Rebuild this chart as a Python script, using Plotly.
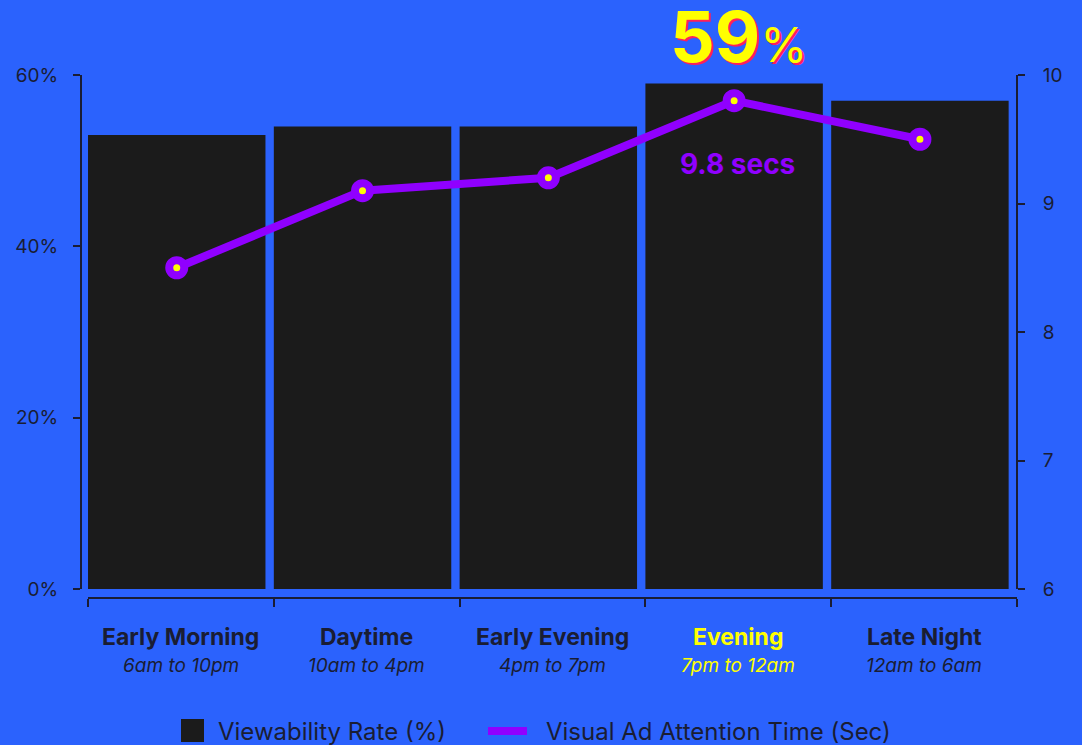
import plotly.graph_objects as go

# Dayparts, their time windows and the two measured series
dayparts = ["Early Morning", "Daytime", "Early Evening", "Evening", "Late Night"]
time_windows = ["6am to 10pm", "10am to 4pm", "4pm to 7pm", "7pm to 12am", "12am to 6am"]
viewability_pct = [53, 54, 54, 59, 57]
attention_secs = [8.5, 9.1, 9.2, 9.8, 9.5]
pct_ticks = [0, 20, 40, 60]
sec_ticks = [6, 7, 8, 9, 10]
highlight = "Evening"

BG = "#2b62fd"
BAR = "#1b1b1b"
PURPLE = "#9000ff"
YELLOW = "#ffff00"
INK = "#1a1d33"
FONT = "Inter"

# Bars start at each category boundary and leave a small gap before the next
BAR_WIDTH = 0.955
idx = list(range(len(dayparts)))
bar_mid = [i - 0.5 + BAR_WIDTH / 2 for i in idx]
boundaries = [i - 0.5 for i in range(len(dayparts) + 1)]

fig = go.Figure()

fig.add_trace(go.Bar(
    x=idx, y=viewability_pct, name="Viewability Rate (%)",
    width=BAR_WIDTH, offset=-0.5,
    marker=dict(color=BAR, line=dict(width=0)),
    yaxis="y", showlegend=False,
))

fig.add_trace(go.Scatter(
    x=bar_mid, y=attention_secs, name="Visual Ad Attention Time (Sec)",
    mode="lines+markers",
    line=dict(color=PURPLE, width=8),
    marker=dict(color=YELLOW, size=15, line=dict(color=PURPLE, width=8)),
    yaxis="y2", showlegend=False,
))

axis_common = dict(
    showgrid=False, zeroline=False, showline=True, linecolor=INK, linewidth=2,
    ticks="outside", ticklen=7, tickwidth=2, tickcolor=INK,
    tickfont=dict(family=FONT, size=19, color=INK),
)

fig.update_layout(
    width=1082, height=745,
    paper_bgcolor=BG, plot_bgcolor=BG,
    margin=dict(l=81, r=65, t=75, b=147),
    xaxis=dict(
        domain=[0.0075, 1], anchor="free", position=0,
        range=[-0.5, len(dayparts) - 0.5],
        showgrid=False, zeroline=False, showline=True, linecolor=INK, linewidth=2,
        ticks="outside", ticklen=8, tickwidth=2, tickcolor=INK,
        tickmode="array", tickvals=boundaries, showticklabels=False,
    ),
    yaxis=dict(
        domain=[9 / 523, 1], anchor="free", position=0,
        range=[0, 60], tickmode="array", tickvals=pct_ticks,
        ticktext=[f"{v}%" for v in pct_ticks],
        ticklabelstandoff=11, **axis_common,
    ),
    yaxis2=dict(
        domain=[9 / 523, 1], overlaying="y", side="right", anchor="free", position=1,
        range=[6, 10], tickmode="array", tickvals=sec_ticks,
        ticklabelstandoff=14, **axis_common,
    ),
)

# Two-line category labels, the highlighted daypart in yellow
for i, name, window in zip(idx, dayparts, time_windows):
    col = YELLOW if name == highlight else INK
    fig.add_annotation(x=i, xref="x", y=-0.0746, yref="paper", yanchor="middle",
                       text=f"<b>{name}</b>", showarrow=False,
                       font=dict(family=FONT, size=23, color=col))
    fig.add_annotation(x=i, xref="x", y=-0.130, yref="paper", yanchor="middle",
                       text=f"<i>{window}</i>", showarrow=False,
                       font=dict(family=FONT, size=19, color=col))

# Callouts for the highlighted daypart
h = dayparts.index(highlight)
fig.add_annotation(
    x=bar_mid[h], xref="x", y=viewability_pct[h], yref="y",
    yanchor="bottom", yshift=3, xshift=4, showarrow=False,
    text=f"<b>{viewability_pct[h]}</b><span style='font-size:48px'>%</span>",
    font=dict(family=FONT, size=70, color=YELLOW, shadow="2px 2px 0px #ff1f5a"),
)
fig.add_annotation(
    x=bar_mid[h], xref="x", y=attention_secs[h], yref="y2",
    yanchor="middle", yshift=-63, xshift=3, showarrow=False,
    text=f"<b>{attention_secs[h]} secs</b>",
    font=dict(family=FONT, size=28, color=PURPLE),
)

# Legend drawn along the bottom edge
def px_x(p):
    return (p - 81) / 936

def px_y(p):
    return (598 - p) / 523

fig.add_shape(type="rect", xref="paper", yref="paper",
              x0=px_x(181), x1=px_x(204), y0=px_y(742), y1=px_y(719),
              fillcolor=BAR, line=dict(width=0))
fig.add_annotation(xref="paper", yref="paper", x=px_x(216), y=px_y(731),
                   xanchor="left", yanchor="middle", showarrow=False,
                   text="Viewability Rate (%)",
                   font=dict(family=FONT, size=24, color=INK))
fig.add_shape(type="line", xref="paper", yref="paper",
              x0=px_x(488), x1=px_x(527), y0=px_y(731), y1=px_y(731),
              line=dict(color=PURPLE, width=8))
fig.add_annotation(xref="paper", yref="paper", x=px_x(544), y=px_y(731),
                   xanchor="left", yanchor="middle", showarrow=False,
                   text="Visual Ad Attention Time (Sec)",
                   font=dict(family=FONT, size=24, color=INK))

fig.write_html("out.html")
